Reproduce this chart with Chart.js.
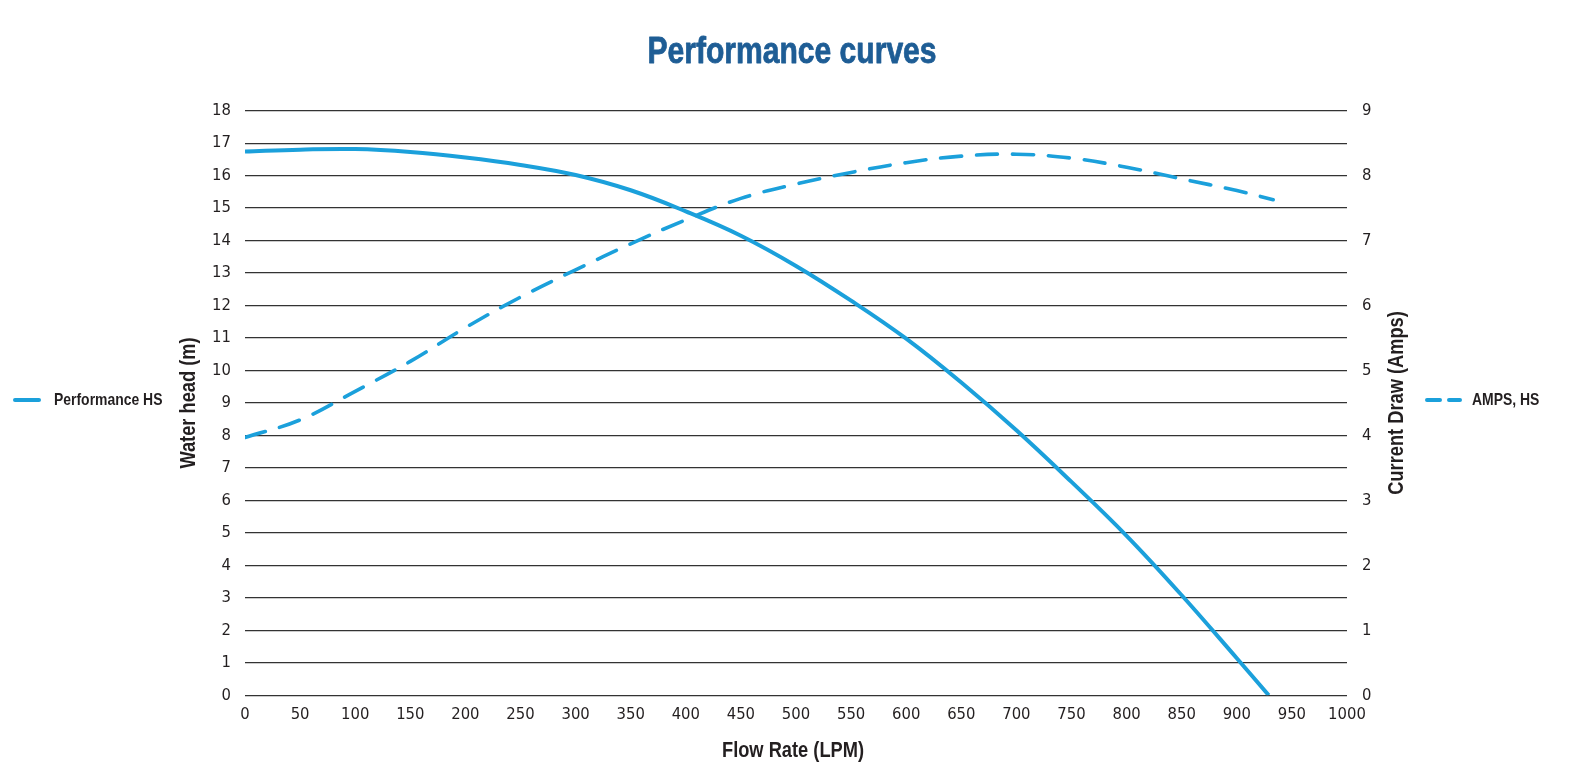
<!DOCTYPE html>
<html>
<head>
<meta charset="utf-8">
<script src="https://cdn.jsdelivr.net/npm/chart.js@4.4.1/dist/chart.umd.min.js"></script>
<style>
  html, body { margin: 0; padding: 0; background: #ffffff; }
  #wrap { width: 1581px; height: 776px; }
</style>
</head>
<body>
<div id="wrap"><canvas id="c" width="1581" height="776"></canvas></div>
<script>
// ---- Data ----
const chartTitle = 'Performance curves';
const xAxisTitle = 'Flow Rate (LPM)';
const yLeftTitle = 'Water head (m)';
const yRightTitle = 'Current Draw (Amps)';

const perfLabel = 'Performance HS';
const perfFlow = [0, 50, 100, 150, 200, 250, 300, 350, 400, 450, 500, 550, 600, 650, 700, 750, 800, 850, 900, 929];
const perfHead = [16.74, 16.8, 16.82, 16.73, 16.56, 16.33, 16.02, 15.55, 14.9, 14.15, 13.22, 12.15, 10.98, 9.63, 8.16, 6.57, 4.91, 3.08, 1.14, 0];

const ampsLabel = 'AMPS, HS';
const ampsFlow = [0, 50, 100, 150, 200, 250, 300, 350, 400, 450, 500, 550, 600, 650, 700, 750, 800, 850, 900, 933];
const ampsValues = [3.97, 4.24, 4.68, 5.14, 5.66, 6.13, 6.55, 6.95, 7.32, 7.65, 7.87, 8.05, 8.2, 8.3, 8.33, 8.27, 8.13, 7.95, 7.77, 7.63];

const xMin = 0, xMax = 1000, xStep = 50;
const yLeftMin = 0, yLeftMax = 18, yLeftStep = 1;
const yRightMin = 0, yRightMax = 9, yRightStep = 1;

// ---- Styling ----
const lineBlue = '#1ba0db';
const titleBlue = '#1e5d95';
const textDark = '#231f20';
const narrowFamily = "'Liberation Sans', Arial, sans-serif";
const tickFamily = "'DejaVu Sans Condensed', 'DejaVu Sans', sans-serif";

function toPoints(xs, ys) { return xs.map((x, i) => ({ x: x, y: ys[i] })); }

function drawNarrowText(ctx, text, x, y, size, color, align, rotated, squeeze, embolden) {
  ctx.save();
  ctx.translate(x, y);
  if (rotated) ctx.rotate(-Math.PI / 2);
  ctx.scale(squeeze, 1);
  ctx.font = 'bold ' + size + 'px ' + narrowFamily;
  ctx.textAlign = align;
  ctx.textBaseline = 'middle';
  ctx.fillStyle = color;
  ctx.fillText(text, 0, 0);
  if (embolden) {
    ctx.strokeStyle = color;
    ctx.lineWidth = embolden;
    ctx.lineJoin = 'round';
    ctx.strokeText(text, 0, 0);
  }
  ctx.restore();
}

const textAndLegends = {
  id: 'textAndLegends',
  afterDraw(chart) {
    const ctx = chart.ctx;
    const ca = chart.chartArea;
    const ds = chart.data.datasets;
    const midY = (ca.top + ca.bottom) / 2;
    const midX = (ca.left + ca.right) / 2;

    // Title and axis titles
    drawNarrowText(ctx, chartTitle, 792, 53, 36, titleBlue, 'center', false, 0.835, 0.8);
    drawNarrowText(ctx, xAxisTitle, midX - 3, 751, 22, textDark, 'center', false, 0.83, 0);
    drawNarrowText(ctx, yLeftTitle, 189, midY, 22, textDark, 'center', true, 0.83, 0);
    drawNarrowText(ctx, yRightTitle, 1397, midY, 22, textDark, 'center', true, 0.83, 0);

    // Side legends
    const yMid = 400;
    ctx.save();
    ctx.lineCap = 'round';
    ctx.lineWidth = 4;
    ctx.strokeStyle = ds[0].borderColor;
    ctx.beginPath();
    ctx.moveTo(15, yMid); ctx.lineTo(39, yMid);
    ctx.stroke();
    ctx.strokeStyle = ds[1].borderColor;
    ctx.beginPath();
    ctx.moveTo(1427, yMid); ctx.lineTo(1440, yMid);
    ctx.moveTo(1449, yMid); ctx.lineTo(1460, yMid);
    ctx.stroke();
    ctx.restore();
    drawNarrowText(ctx, ds[0].label, 54, yMid, 17, textDark, 'left', false, 0.82, 0);
    drawNarrowText(ctx, ds[1].label, 1472, yMid, 17, textDark, 'left', false, 0.82, 0);
  }
};

const tickFont = { family: tickFamily, size: 16.5 };
const plainNumber = (v) => String(v);

new Chart(document.getElementById('c'), {
  type: 'line',
  data: {
    datasets: [
      {
        label: perfLabel,
        data: toPoints(perfFlow, perfHead),
        yAxisID: 'y',
        borderColor: lineBlue,
        backgroundColor: lineBlue,
        borderWidth: 4,
        pointRadius: 0,
        tension: 0.4,
        fill: false
      },
      {
        label: ampsLabel,
        data: toPoints(ampsFlow, ampsValues),
        yAxisID: 'y1',
        borderColor: lineBlue,
        backgroundColor: lineBlue,
        borderWidth: 3.6,
        borderDash: [21, 15],
        borderCapStyle: 'round',
        pointRadius: 0,
        tension: 0.4,
        fill: false
      }
    ]
  },
  options: {
    responsive: false,
    animation: false,
    devicePixelRatio: 1,
    layout: { padding: { top: 110.7, left: 0, right: 0, bottom: 0 } },
    plugins: {
      legend: { display: false },
      tooltip: { enabled: false },
      title: { display: false }
    },
    scales: {
      x: {
        type: 'linear',
        min: xMin, max: xMax,
        ticks: { stepSize: xStep, color: textDark, padding: 10, font: tickFont, maxRotation: 0, autoSkip: false, callback: plainNumber },
        grid: { display: false, drawTicks: false },
        border: { display: false },
        afterFit(scale) { scale.height = 776 - 695.3; }
      },
      y: {
        type: 'linear',
        position: 'left',
        min: yLeftMin, max: yLeftMax,
        ticks: { stepSize: yLeftStep, color: textDark, padding: 14, font: tickFont, callback: plainNumber },
        grid: { color: '#333333', lineWidth: 1.3, drawTicks: false },
        border: { display: false },
        afterFit(scale) { scale.width = 245; }
      },
      y1: {
        type: 'linear',
        position: 'right',
        min: yRightMin, max: yRightMax,
        ticks: { stepSize: yRightStep, color: textDark, padding: 15, font: tickFont, callback: plainNumber },
        grid: { display: false, drawOnChartArea: false, drawTicks: false },
        border: { display: false },
        afterFit(scale) { scale.width = 1581 - 1347; }
      }
    }
  },
  plugins: [textAndLegends]
});
</script>
</body>
</html>
